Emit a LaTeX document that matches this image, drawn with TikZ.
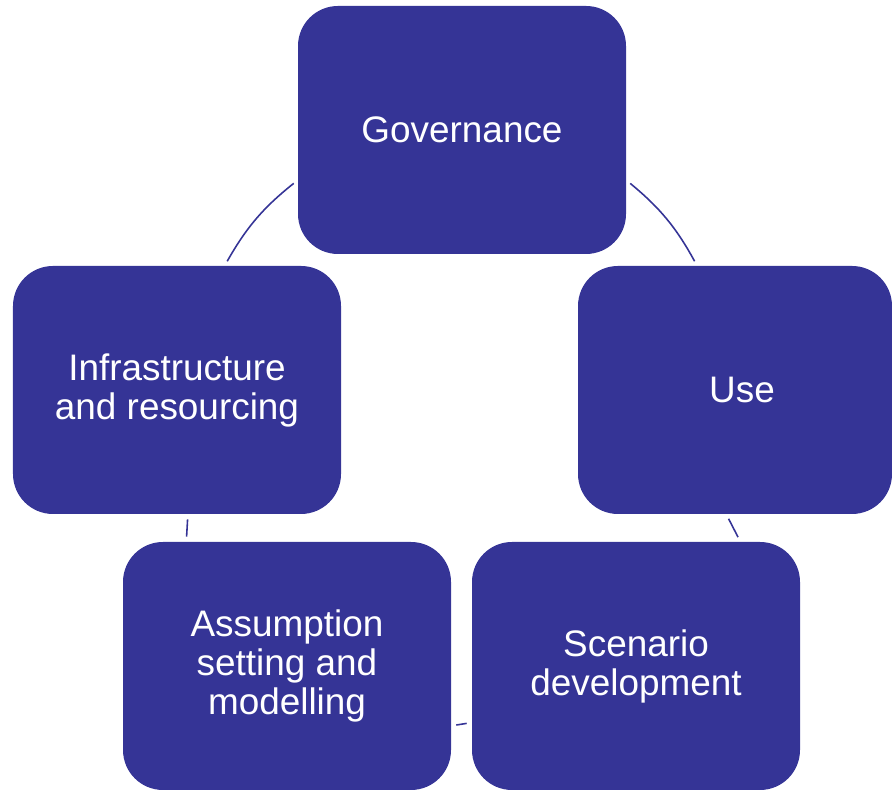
\documentclass[tikz,border=0pt]{standalone}
\usepackage{fontspec}
\setmainfont{Liberation Sans}
\definecolor{boxblue}{RGB}{53,52,150}
\begin{document}
\begin{tikzpicture}[
        stage/.style={fill=boxblue, text=white, rounded corners=0.8cm, minimum width=6.56cm, minimum height=4.96cm, inner sep=0pt, align=center, font=\fontsize{21}{22.2}\selectfont},
        link/.style={draw=boxblue, line width=0.9pt, shorten <=0.1cm, shorten >=0.1cm}
    ]
        \useasboundingbox (0,0) rectangle (17.84,15.8);

        \node[stage] (gov) at (9.24,13.2) {Governance};
        \node[stage, minimum width=6.28cm] (use) at (14.7,8.0) {\hspace*{0.28cm}Use};
        \node[stage] (scen) at (12.72,2.48) {Scenario\\development};
        \node[stage] (assum) at (5.74,2.48) {Assumption\\setting and\\modelling};
        \node[stage] (infra) at (3.54,8.0) {Infrastructure\\and resourcing};

        % cycle, counter-clockwise
        \draw[link] (gov.197) to[bend right=11] (infra.69);
        \draw[link] (infra.275.7) -- (assum.129);
        \draw[link] (assum.340.8) -- (scen.199.2);
        \draw[link] (scen.50.9) -- (use.266.6);
        \draw[link] (use.107.9) to[bend right=11] (gov.343);
    \end{tikzpicture}
\end{document}
